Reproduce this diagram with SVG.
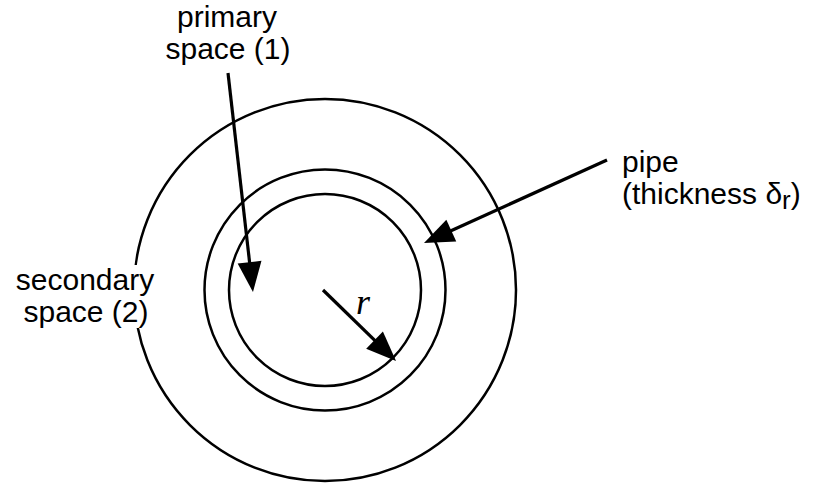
<svg xmlns="http://www.w3.org/2000/svg" width="813" height="487" viewBox="0 0 813 487">
  <style>
    .ring { fill: none; stroke: #000; stroke-width: 2.5; }
    .lbl { font-family: "Liberation Sans", Arial, sans-serif; font-size: 30px; fill: #000; }
    .arrow { stroke: #000; stroke-width: 3.2; fill: none; marker-end: url(#head); }
    .math { font-family: "Liberation Serif", "Times New Roman", serif; font-style: italic; font-size: 36px; fill: #000; }
  </style>
  <defs>
    <marker id="head" markerUnits="userSpaceOnUse" markerWidth="32" markerHeight="26" refX="10" refY="12" orient="auto" overflow="visible">
      <path d="M0,0 L30,12 L0,24 Z" fill="#000"/>
    </marker>
  </defs>
  <rect width="813" height="487" fill="#fff"/>

  <g id="outer-circle"><circle class="ring" cx="325" cy="290" r="191"/></g>
  <g id="pipe-outer"><circle class="ring" cx="325" cy="290" r="120.5"/></g>
  <g id="pipe-inner"><circle class="ring" cx="325" cy="290" r="96"/></g>

  <g id="secondary-label">
    <rect x="8" y="265" width="153" height="63" fill="#fff"/>
    <text class="lbl" text-anchor="middle"><tspan x="85" y="290">secondary</tspan><tspan x="86" y="322">space (2)</tspan></text>
  </g>

  <g id="primary-label">
    <text class="lbl" text-anchor="middle"><tspan x="227" y="27">primary</tspan><tspan x="228" y="59">space (1)</tspan></text>
  </g>

  <g id="pipe-label">
    <text class="lbl"><tspan x="622" y="172">pipe</tspan><tspan x="622" y="204">(thickness δ</tspan><tspan font-size="26" dy="5">r</tspan><tspan dy="-5">)</tspan></text>
  </g>

  <g id="radius-label">
    <text class="math" x="356" y="314">r</text>
  </g>

  <g id="connectors">
    <line class="arrow" x1="228" y1="73" x2="250.7" y2="272.1"/>
    <line class="arrow" x1="607" y1="160" x2="442.2" y2="234.7"/>
    <line class="arrow" x1="323" y1="290" x2="381.7" y2="347.1"/>
  </g>
</svg>
